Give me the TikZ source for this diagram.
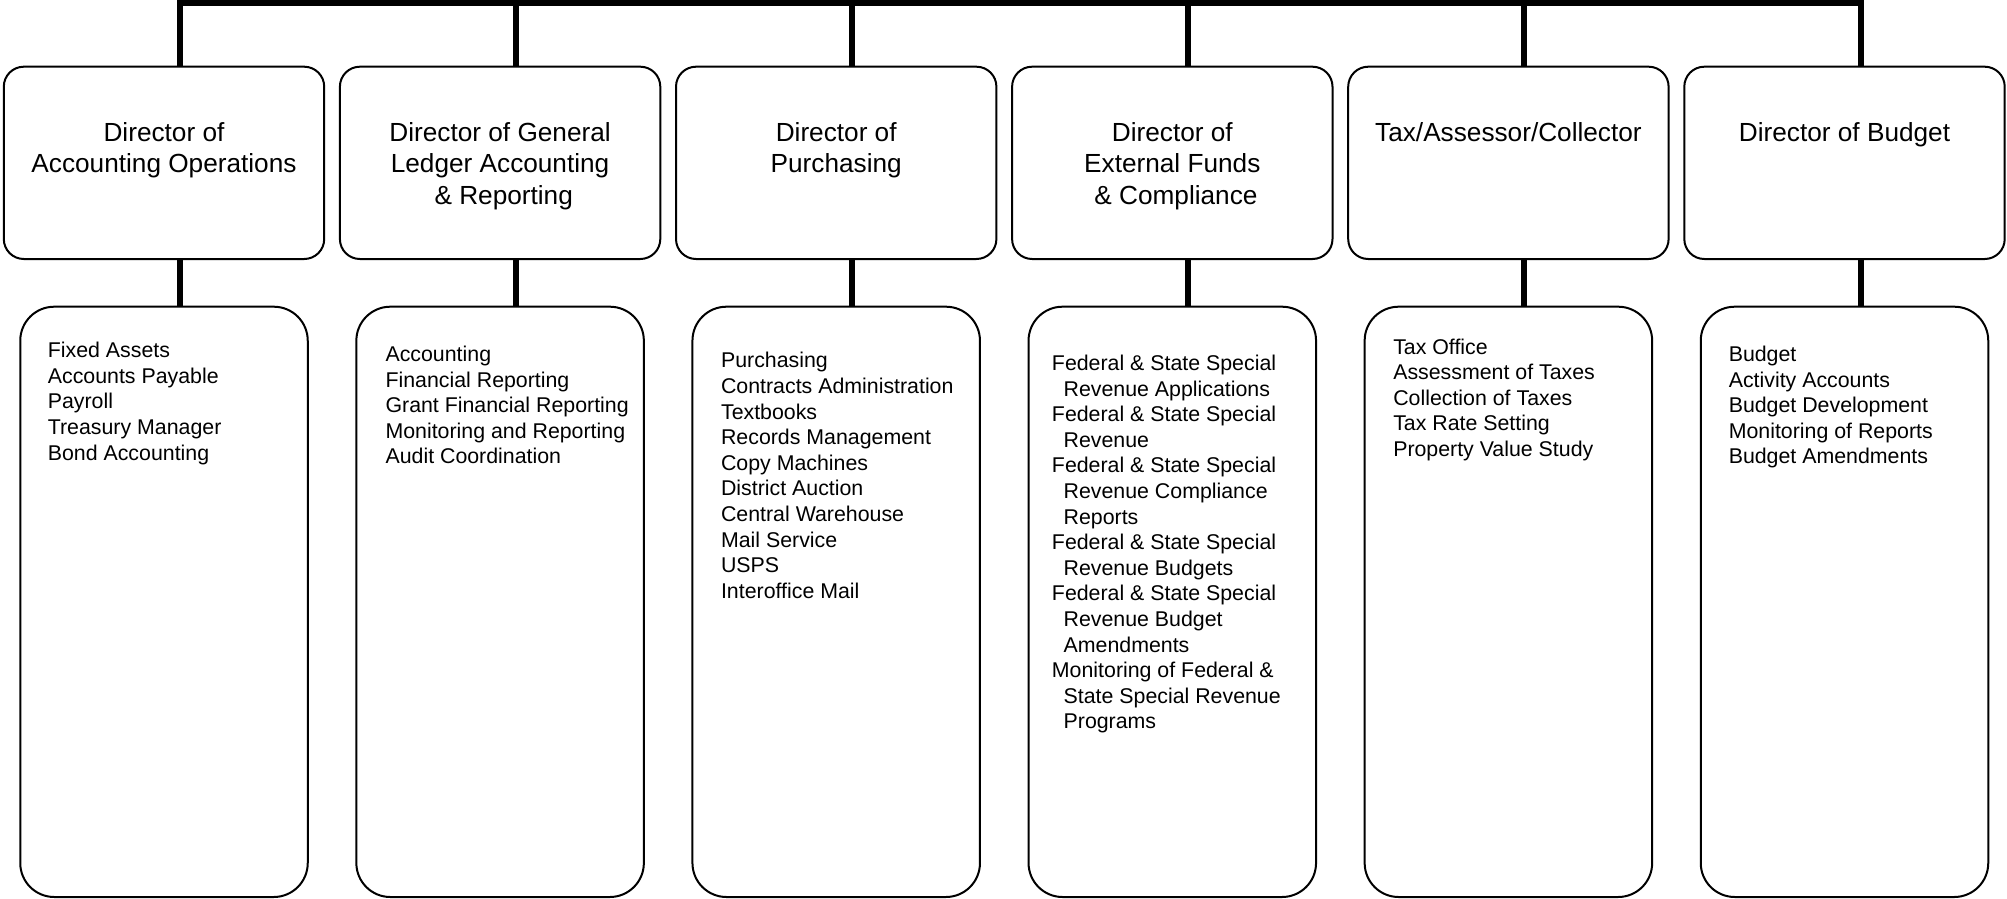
\documentclass[tikz,border=0pt]{standalone}
\usepackage{fontspec}
\setmainfont{Liberation Sans}
\usetikzlibrary{positioning}
\newcommand{\wrapind}{\hspace*{5.85pt}}
\begin{document}
\begin{tikzpicture}[x=0.5pt,y=-0.5pt,
  dirbox/.style={draw, line width=1pt, rounded corners=10pt, minimum width=160.2pt, minimum height=96.15pt, inner sep=0pt, outer sep=0pt},
  dirtext/.style={align=center, inner sep=0pt, font=\fontsize{13.1}{15.85}\selectfont},
  lowbox/.style={draw, line width=1pt, rounded corners=17pt, minimum width=143.75pt, minimum height=295.15pt, inner sep=0pt, outer sep=0pt},
  lowtext/.style={align=left, inner sep=0pt, font=\fontsize{10.67}{12.8}\selectfont},
  link/.style={line width=3pt}]
\useasboundingbox (0,0) rectangle (2007,899);
\coordinate (top1) at (180,3);
\coordinate (top2) at (516.1,3);
\coordinate (top3) at (852.2,3);
\coordinate (top4) at (1188.3,3);
\coordinate (top5) at (1524.4,3);
\coordinate (top6) at (1860.5,3);
\draw[link, line cap=rect] (top1) -- (top6);
\node[dirbox] (dir1) at (164,162.85){};
\node[dirtext, below=27.5pt of dir1.north] (dir1t) {Director of\\Accounting Operations};
\node[lowbox] (low1) at (164,601.85){};
\node[lowtext, below right=17.6pt and 13.6pt of low1.north west] (low1t) {Fixed Assets\\Accounts Payable\\Payroll\\Treasury Manager\\Bond Accounting};
\draw[link](top1) -- (top1 |- dir1.north);
\draw[link](top1 |- dir1.south) -- (top1 |- low1.north);
\node[dirbox] (dir2) at (500.1,162.85){};
\node[dirtext, below=27.5pt of dir2.north] (dir2t) {Director of General\\Ledger Accounting\\~\& Reporting};
\node[lowbox] (low2) at (500.1,601.85){};
\node[lowtext, below right=19.5pt and 14.4pt of low2.north west] (low2t) {Accounting\\Financial Reporting\\Grant Financial Reporting\\Monitoring and Reporting\\Audit Coordination};
\draw[link](top2) -- (top2 |- dir2.north);
\draw[link](top2 |- dir2.south) -- (top2 |- low2.north);
\node[dirbox] (dir3) at (836.2,162.85){};
\node[dirtext, below=27.5pt of dir3.north] (dir3t) {Director of\\Purchasing};
\node[lowbox] (low3) at (836.2,601.85){};
\node[lowtext, below right=22.7pt and 14.1pt of low3.north west] (low3t) {Purchasing\\Contracts Administration\\Textbooks\\Records Management\\Copy Machines\\District Auction\\Central Warehouse\\Mail Service\\USPS\\Interoffice Mail};
\draw[link](top3) -- (top3 |- dir3.north);
\draw[link](top3 |- dir3.south) -- (top3 |- low3.north);
\node[dirbox] (dir4) at (1172.3,162.85){};
\node[dirtext, below=27.5pt of dir4.north] (dir4t) {Director of\\External Funds\\~\& Compliance};
\node[lowbox] (low4) at (1172.3,601.85){};
\node[lowtext, below right=24pt and 11.5pt of low4.north west] (low4t) {Federal \& State Special\\\wrapind Revenue Applications\\Federal \& State Special\\\wrapind Revenue\\Federal \& State Special\\\wrapind Revenue Compliance\\\wrapind Reports\\Federal \& State Special\\\wrapind Revenue Budgets\\Federal \& State Special\\\wrapind Revenue Budget\\\wrapind Amendments\\Monitoring of Federal \&\\\wrapind State Special Revenue\\\wrapind Programs};
\draw[link](top4) -- (top4 |- dir4.north);
\draw[link](top4 |- dir4.south) -- (top4 |- low4.north);
\node[dirbox] (dir5) at (1508.4,162.85){};
\node[dirtext, below=27.5pt of dir5.north] (dir5t) {Tax/Assessor/Collector};
\node[lowbox] (low5) at (1508.4,601.85){};
\node[lowtext, below right=15.8pt and 14.1pt of low5.north west] (low5t) {Tax Office\\Assessment of Taxes\\Collection of Taxes\\Tax Rate Setting\\Property Value Study};
\draw[link](top5) -- (top5 |- dir5.north);
\draw[link](top5 |- dir5.south) -- (top5 |- low5.north);
\node[dirbox] (dir6) at (1844.5,162.85){};
\node[dirtext, below=27.5pt of dir6.north] (dir6t) {Director of Budget};
\node[lowbox] (low6) at (1844.5,601.85){};
\node[lowtext, below right=19.5pt and 13.8pt of low6.north west] (low6t) {Budget\\Activity Accounts\\Budget Development\\Monitoring of Reports\\Budget Amendments};
\draw[link](top6) -- (top6 |- dir6.north);
\draw[link](top6 |- dir6.south) -- (top6 |- low6.north);
\end{tikzpicture}
\end{document}
